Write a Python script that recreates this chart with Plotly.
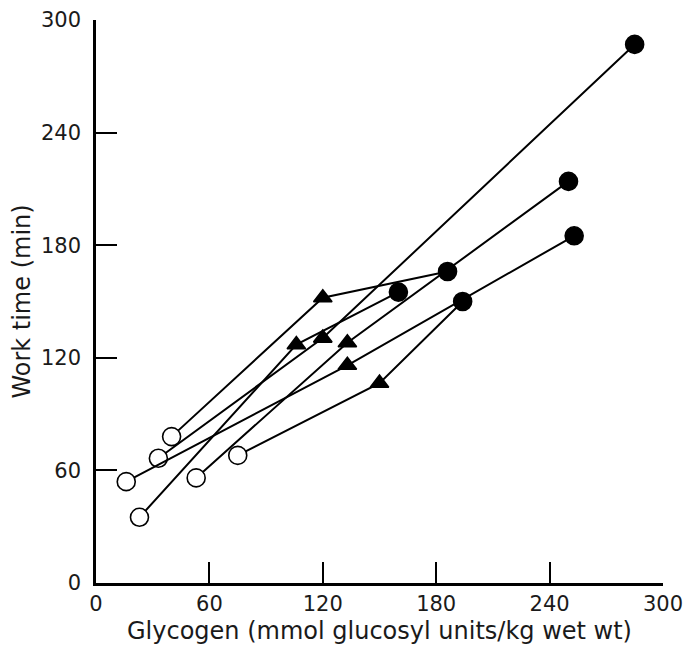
import plotly.graph_objects as go

# Each subject: open circle (start), triangle (middle), filled circle (end)
glycogen_open = [33, 40, 23, 16, 53, 75]
worktime_open = [66.5, 78, 35, 54, 56, 68]
glycogen_tri = [120, 120, 106, 133, 133, 150]
worktime_tri = [130.5, 152, 127, 116, 128, 106.5]
glycogen_fill = [285, 186, 160, 253, 250, 194]
worktime_fill = [287, 166, 155, 185, 214, 150]

tick_vals = [0, 60, 120, 180, 240, 300]
tick_text = ["0", "60", "120", "180", "240", "300"]

FONT = "DejaVu Sans, Verdana, sans-serif"

fig = go.Figure()
for i in range(len(glycogen_open)):
    fig.add_trace(go.Scatter(
        x=[glycogen_open[i], glycogen_tri[i], glycogen_fill[i]],
        y=[worktime_open[i], worktime_tri[i], worktime_fill[i]],
        mode="lines+markers",
        line=dict(color="black", width=2),
        marker=dict(
            symbol=["circle", "triangle-up", "circle"],
            color=["white", "black", "black"],
            size=[18, 16, 18],
            opacity=1,
            line=dict(color="black", width=1.6),
        ),
        cliponaxis=False,
        showlegend=False,
    ))

tick_font = dict(family=FONT, size=21, color="#1a1a1a")
title_font = dict(family=FONT, size=24, color="#1a1a1a")
fig.update_layout(
    width=684, height=637,
    margin=dict(l=88, r=29, t=12, b=62),
    paper_bgcolor="white", plot_bgcolor="white",
    xaxis=dict(
        range=[0, 300], tickvals=tick_vals, ticktext=tick_text,
        ticks="inside", ticklen=21, tickwidth=2, tickcolor="black",
        showline=True, linecolor="black", linewidth=2.5,
        showgrid=False, zeroline=False, tickfont=tick_font,
        ticklabelstandoff=0, automargin=False,
        title=dict(text="Glycogen (mmol glucosyl units/kg wet wt)",
                   font=title_font, standoff=8),
    ),
    yaxis=dict(
        range=[0, 300], tickvals=tick_vals, ticktext=tick_text,
        ticks="inside", ticklen=21, tickwidth=2, tickcolor="black",
        showline=True, linecolor="black", linewidth=2.5,
        showgrid=False, zeroline=False, tickfont=tick_font,
        ticklabelstandoff=8, automargin=False,
        title=dict(text="Work time (min)", font=title_font, standoff=7),
    ),
)
fig.write_html("out.html")
